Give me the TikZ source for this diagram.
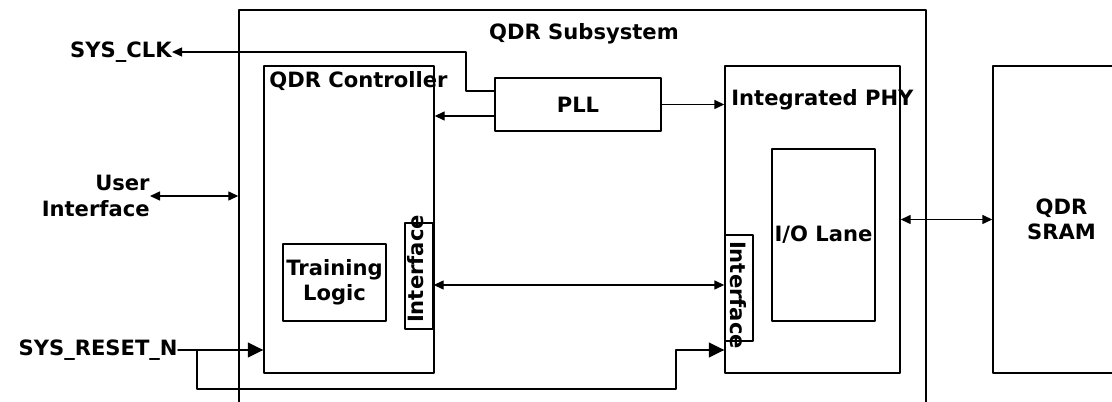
\documentclass[tikz,border=0pt]{standalone}
\usepackage{fontspec}
\setmainfont{DejaVu Sans}
\usetikzlibrary{calc,arrows.meta}

\begin{document}
\begin{tikzpicture}[x=0.2mm, y=-0.2mm, line cap=round, line join=round,
		font=\fontsize{12}{14.5}\selectfont\bfseries,
		blk/.style={draw, line width=0.8pt, inner sep=0pt, align=center},
		lbl/.style={inner sep=0pt, align=center},
		arr/.style={line width=0.8pt, -{Triangle[length=2mm,width=1.8mm]}},
		darr/.style={line width=0.8pt, {Triangle[length=2mm,width=1.8mm]}-{Triangle[length=2mm,width=1.8mm]}},
		bigarr/.style={line width=0.8pt, -{Triangle[length=3.1mm,width=3mm]}}]
			\useasboundingbox (0,0) rectangle (1112,402);
			\clip (0,0) rectangle (1112,402);
			% blocks
			\node[blk, minimum width=137.4mm, minimum height=82mm] (sub) at (582.5,215) {};
			\node[lbl] (subtitle) at (584,34) {QDR Subsystem};
			\node[blk, minimum width=34mm, minimum height=61.4mm] (ctrl) at (349,219.5) {};
			\node[lbl, anchor=west] (ctrltitle) at (269,81) {QDR Controller};
			\node[blk, minimum width=20.6mm, minimum height=15.4mm] (train) at (334.5,282.5) {Training\\Logic};
			\node[blk, minimum width=5.6mm, minimum height=21.2mm] (ctrlif) at (419,276) {};
			\node[lbl, rotate=90] (ctrliftext) at (416,269) {Interface};
			\node[blk, minimum width=33.2mm, minimum height=10.6mm] (pll) at (578,104.5) {PLL};
			\node[blk, minimum width=35mm, minimum height=61.4mm] (phy) at (812.5,219.5) {};
			\node[lbl, anchor=west] (phytitle) at (731,100) {Integrated PHY};
			\node[blk, minimum width=20.6mm, minimum height=34.4mm] (io) at (823.5,235) {I/O Lane};
			\node[blk, minimum width=5.6mm, minimum height=21.2mm] (phyif) at (739,288) {};
			\node[lbl, rotate=-90] (phyiftext) at (738,295) {Interface};
			\node[blk, minimum width=27.4mm, minimum height=61.4mm] (sram) at (1061.5,219.5) {QDR\\SRAM};
			% outside signals
			\node[lbl, anchor=east] (sysclk) at (172,52) {SYS\_CLK};
			\node[lbl, anchor=east, align=right] (user) at (150,196) {User\\Interface};
			\node[lbl, anchor=east] (reset) at (178,350) {SYS\_RESET\_N};
			% connectors
			\coordinate (clkout) at ($(pll.west)+(0,-13.5)$);
			\coordinate (clkbend) at (466,52);
			\draw[arr] (clkout) -| (clkbend) -- (sysclk.east);
			\coordinate (pllout) at ($(pll.west)+(0,11.5)$);
			\draw[arr] (pllout) -- (pllout -| ctrl.east);
			\draw[arr] (pll.east) -- (pll.east -| phy.west);
			\draw[darr] (user.east) -- (user.east -| sub.west);
			\coordinate (ifl) at ($(ctrlif.east)+(0,9)$);
			\draw[darr] (ifl) -- (ifl -| phyif.west);
			\draw[darr] (phy.east) -- (sram.west);
			\coordinate (rst) at (197,350);
			\coordinate (rstb) at (676,389);
			\draw[bigarr] (reset.east) -- (reset.east -| ctrl.west);
			\draw[bigarr] (rst) |- (rstb) |- (rst -| phy.west);
		\end{tikzpicture}
\end{document}
